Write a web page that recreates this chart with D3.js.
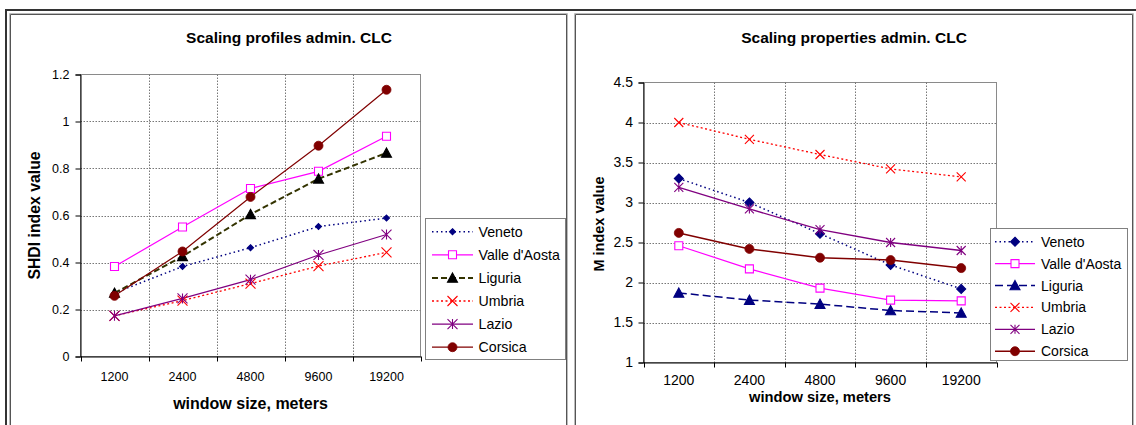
<!DOCTYPE html>
<html>
<head>
<meta charset="utf-8">
<script src="https://cdn.jsdelivr.net/npm/d3@7"></script>
<style>
body { margin: 0; background: #fff; }
svg { display: block; font-family: "Liberation Sans", Arial, sans-serif; }
</style>
</head>
<body>
<svg id="chart" width="1136" height="425"></svg>
<script>
const windowSizes = ['1200', '2400', '4800', '9600', '19200'];
const seriesNames = ['Veneto', "Valle d'Aosta", 'Liguria', 'Umbria', 'Lazio', 'Corsica'];

// SHDI index (left panel)
const shdiVeneto = [0.27, 0.383, 0.463, 0.553, 0.589];
const shdiValle = [0.383, 0.551, 0.715, 0.788, 0.937];
const shdiLiguria = [0.27, 0.426, 0.605, 0.756, 0.866];
const shdiUmbria = [0.173, 0.238, 0.31, 0.385, 0.443];
const shdiLazio = [0.173, 0.247, 0.327, 0.432, 0.519];
const shdiCorsica = [0.258, 0.447, 0.679, 0.897, 1.135];
const shdiTicks = [0, 0.2, 0.4, 0.6, 0.8, 1, 1.2];

// M index (right panel)
const mVeneto = [3.3, 3.0, 2.61, 2.22, 1.92];
const mValle = [2.46, 2.17, 1.93, 1.78, 1.77];
const mLiguria = [1.87, 1.78, 1.73, 1.65, 1.62];
const mUmbria = [4.0, 3.79, 3.6, 3.42, 3.32];
const mLazio = [3.19, 2.92, 2.66, 2.5, 2.4];
const mCorsica = [2.62, 2.42, 2.31, 2.28, 2.18];
const mTicks = [1, 1.5, 2, 2.5, 3, 3.5, 4, 4.5];

const svg = d3.select('#chart');

// outer frame lines (window decoration)
svg.append('line').attr('x1', 5).attr('x2', 1136).attr('y1', 10).attr('y2', 10)
  .attr('stroke', '#333').attr('stroke-width', 2);
svg.append('line').attr('x1', 6).attr('x2', 6).attr('y1', 9).attr('y2', 425)
  .attr('stroke', '#333').attr('stroke-width', 2);

function chartFrame(x1, x2) {
  svg.append('path')
    .attr('d', `M${x1 - 1},425V13.5H${x2 + 1}V425`)
    .attr('fill', 'none').attr('stroke', '#bbb');
  svg.append('path')
    .attr('d', `M${x1},425V14.5H${x2}V425`)
    .attr('fill', 'none').attr('stroke', '#555');
}
chartFrame(10.5, 566.5);
chartFrame(575.5, 1132.5);

function markerPath(type, s) {
  const t = s * 0.85;
  switch (type) {
    case 'diamond': return `M0,${-s}L${s},0L0,${s}L${-s},0Z`;
    case 'square': return `M${-s},${-s}H${s}V${s}H${-s}Z`;
    case 'triangle': return `M0,${-s}L${s},${t}L${-s},${t}Z`;
    case 'x': return `M${-s},${-s}L${s},${s}M${-s},${s}L${s},${-s}`;
    case 'star': return `M${-s},${-s}L${s},${s}M${-s},${s}L${s},${-s}M0,${-s}L0,${s}`;
  }
}

function drawMarker(g, st, x, y) {
  if (st.marker === 'circle') {
    g.append('circle').attr('cx', x).attr('cy', y).attr('r', st.size)
      .attr('fill', st.mcolor || st.color).attr('stroke', st.mcolor || st.color).attr('stroke-width', 0.8);
    return;
  }
  const filled = st.marker === 'diamond' || st.marker === 'triangle';
  g.append('path')
    .attr('transform', `translate(${x},${y})`)
    .attr('d', markerPath(st.marker, st.size))
    .attr('fill', filled ? (st.mcolor || st.color) : (st.marker === 'square' ? '#fff' : 'none'))
    .attr('stroke', st.mcolor || st.color)
    .attr('stroke-width', 1.1);
}

function drawChart(cfg) {
  const x = d3.scaleBand().domain(windowSizes).range([cfg.left, cfg.right]);
  const y = d3.scaleLinear().domain(cfg.domain).range([cfg.bottom, cfg.top]);
  const g = svg.append('g');

  // plot border
  g.append('rect')
    .attr('x', cfg.left).attr('y', cfg.top)
    .attr('width', cfg.right - cfg.left).attr('height', cfg.bottom - cfg.top)
    .attr('fill', 'none').attr('stroke', '#8a8a8a');

  // gridlines
  const inner = cfg.ticks.slice(1, -1);
  g.selectAll('.hgrid').data(inner).join('line')
    .attr('x1', cfg.left).attr('x2', cfg.right)
    .attr('y1', d => Math.round(y(d)) + 0.5).attr('y2', d => Math.round(y(d)) + 0.5)
    .attr('stroke', '#777').attr('stroke-dasharray', '1.5,1.5');
  g.selectAll('.vgrid').data(windowSizes.slice(1)).join('line')
    .attr('x1', d => Math.round(x(d)) + 0.5).attr('x2', d => Math.round(x(d)) + 0.5)
    .attr('y1', cfg.top).attr('y2', cfg.bottom)
    .attr('stroke', '#777').attr('stroke-dasharray', '1.5,1.5');

  // y axis
  const yAxis = g.append('g').attr('transform', `translate(${cfg.left},0)`)
    .call(d3.axisLeft(y).tickValues(cfg.ticks).tickSize(5).tickPadding(cfg.yPad)
      .tickFormat(d3.format('~g')));
  yAxis.select('.domain').attr('stroke', '#000');
  yAxis.selectAll('line').attr('stroke', '#000');
  yAxis.selectAll('text').attr('font-size', cfg.tickFont).attr('fill', '#000')
    .attr('font-family', '"Liberation Sans", Arial, sans-serif');

  // x axis: labels at band centres, ticks at band edges
  const xAxis = g.append('g').attr('transform', `translate(0,${cfg.bottom})`)
    .call(d3.axisBottom(x).tickSize(0).tickPadding(cfg.xPad));
  xAxis.select('.domain').attr('stroke', '#000');
  xAxis.selectAll('text').attr('font-size', cfg.tickFont).attr('fill', '#000')
    .attr('font-family', '"Liberation Sans", Arial, sans-serif');
  const edges = windowSizes.map(d => x(d)).concat([x.range()[1]]);
  g.selectAll('.xtick').data(edges).join('line')
    .attr('x1', d => Math.round(d) + 0.5).attr('x2', d => Math.round(d) + 0.5)
    .attr('y1', cfg.bottom).attr('y2', cfg.bottom + 5)
    .attr('stroke', '#000');

  // series
  const line = d3.line().x((d, i) => x(windowSizes[i]) + x.bandwidth() / 2).y(d => y(d));
  cfg.series.forEach((vals, si) => {
    const st = cfg.styles[si];
    g.append('path').attr('d', line(vals))
      .attr('fill', 'none').attr('stroke', st.color).attr('stroke-width', st.width)
      .attr('stroke-dasharray', st.dash || null);
  });
  cfg.series.forEach((vals, si) => {
    const st = cfg.styles[si];
    vals.forEach((v, i) => drawMarker(g, st, x(windowSizes[i]) + x.bandwidth() / 2, y(v)));
  });

  // titles
  g.append('text').attr('x', cfg.titleX).attr('y', cfg.titleY)
    .attr('text-anchor', 'middle').attr('font-weight', 'bold').attr('font-size', cfg.titleFont)
    .text(cfg.title);
  g.append('text').attr('x', (cfg.left + cfg.right) / 2).attr('y', cfg.xTitleY)
    .attr('text-anchor', 'middle').attr('font-weight', 'bold').attr('font-size', cfg.xTitleFont)
    .text('window size, meters');
  g.append('text')
    .attr('transform', `translate(${cfg.yTitleX},${cfg.yTitleCy}) rotate(-90)`)
    .attr('text-anchor', 'middle').attr('font-weight', 'bold').attr('font-size', cfg.yTitleFont)
    .text(cfg.yTitle);

  // legend
  const lg = cfg.legend;
  g.append('rect').attr('x', lg.x).attr('y', lg.y).attr('width', lg.w).attr('height', lg.h)
    .attr('fill', '#fff').attr('stroke', '#808080');
  seriesNames.forEach((name, i) => {
    const st = cfg.styles[i];
    const ry = lg.row0 + lg.step * i;
    g.append('line').attr('x1', lg.lineX1).attr('x2', lg.lineX2).attr('y1', ry).attr('y2', ry)
      .attr('stroke', st.color).attr('stroke-width', st.width).attr('stroke-dasharray', st.dash || null);
    drawMarker(g, st, (lg.lineX1 + lg.lineX2) / 2, ry);
    g.append('text').attr('x', lg.textX).attr('y', ry).attr('dy', '0.36em')
      .attr('font-size', lg.font).text(name);
  });
}

const leftStyles = [
  { color: '#000080', dash: '1.5,3', width: 1.5, marker: 'diamond', size: 3 },
  { color: '#ff00ff', width: 1.2, marker: 'square', size: 4 },
  { color: '#333300', dash: '6,3', width: 2, marker: 'triangle', size: 5, mcolor: '#000' },
  { color: '#ff0000', dash: '2,2.5', width: 1.3, marker: 'x', size: 5 },
  { color: '#800080', width: 1.2, marker: 'star', size: 5 },
  { color: '#800000', width: 1.2, marker: 'circle', size: 4.5 }
];
const rightStyles = [
  { color: '#000080', dash: '1.5,3', width: 1.5, marker: 'diamond', size: 4.5 },
  { color: '#ff00ff', width: 1.2, marker: 'square', size: 4 },
  { color: '#000080', dash: '8,4', width: 1.5, marker: 'triangle', size: 5 },
  { color: '#ff0000', dash: '2,2.5', width: 1.3, marker: 'x', size: 4.5 },
  { color: '#800080', width: 1.3, marker: 'star', size: 4.5 },
  { color: '#800000', width: 1.5, marker: 'circle', size: 4.5 }
];

drawChart({
  left: 80.5, right: 420.5, top: 74.5, bottom: 356.5,
  domain: [0, 1.2], ticks: shdiTicks,
  series: [shdiVeneto, shdiValle, shdiLiguria, shdiUmbria, shdiLazio, shdiCorsica],
  styles: leftStyles,
  tickFont: 12.5, yPad: 6, xPad: 16,
  title: 'Scaling profiles admin. CLC', titleX: 289, titleY: 43, titleFont: 15.5,
  xTitleY: 409, xTitleFont: 16,
  yTitle: 'SHDI index value', yTitleX: 40, yTitleCy: 215.5, yTitleFont: 15.8,
  legend: { x: 425.5, y: 218.5, w: 140, h: 141, row0: 231.7, step: 23.1,
    lineX1: 432, lineX2: 473, textX: 478.5, font: 14.2 }
});

drawChart({
  left: 643.5, right: 996.5, top: 82.5, bottom: 362.5,
  domain: [1, 4.5], ticks: mTicks,
  series: [mVeneto, mValle, mLiguria, mUmbria, mLazio, mCorsica],
  styles: rightStyles,
  tickFont: 14, yPad: 5.5, xPad: 13,
  title: 'Scaling properties admin. CLC', titleX: 854, titleY: 43, titleFont: 15.5,
  xTitleY: 402, xTitleFont: 14.7,
  yTitle: 'M index value', yTitleX: 604, yTitleCy: 224, yTitleFont: 14.5,
  legend: { x: 990.5, y: 228.5, w: 137, h: 132, row0: 241.7, step: 21.9,
    lineX1: 995, lineX2: 1035, textX: 1041, font: 14 }
});
</script>
</body>
</html>
